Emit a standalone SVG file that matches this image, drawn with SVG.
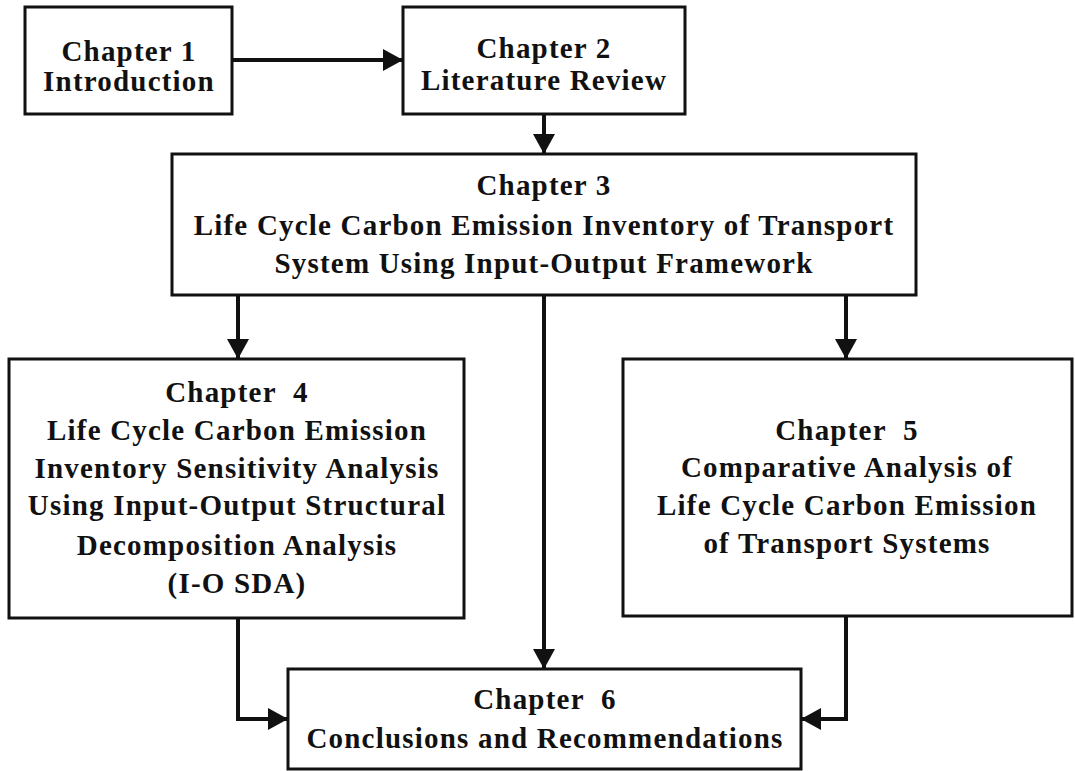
<svg xmlns="http://www.w3.org/2000/svg" width="1075" height="771" viewBox="0 0 1075 771">
<style>
.box{fill:#fff;stroke:#111;stroke-width:3}
.t{font-family:"Liberation Serif","Times New Roman",serif;font-weight:bold;font-size:29px;letter-spacing:1.2px;fill:#111;text-anchor:middle;white-space:pre}
.c{fill:none;stroke:#111;stroke-width:4;marker-end:url(#ah)}
</style>
<defs>
<marker id="ah" markerUnits="userSpaceOnUse" markerWidth="20" markerHeight="22" refX="19" refY="11" orient="auto">
<path d="M0,0 L20,11 L0,22 z" fill="#111"/>
</marker>
</defs>
<rect width="1075" height="771" fill="#fff"/>
<g id="connectors">
<line class="c" x1="232" y1="60" x2="402" y2="60"/>
<line class="c" x1="544" y1="114" x2="544" y2="153"/>
<line class="c" x1="238" y1="295" x2="238" y2="358"/>
<line class="c" x1="846" y1="295" x2="846" y2="358"/>
<line class="c" x1="544" y1="295" x2="544" y2="668"/>
<path class="c" d="M238,618 V719 H287"/>
<path class="c" d="M846,616 V719 H802"/>
</g>
<g id="ch1">
<rect class="box" x="25" y="7" width="207" height="107"/>
<text class="t" x="129" y="61">Chapter 1</text>
<text class="t" x="129" y="91">Introduction</text>
</g>
<g id="ch2">
<rect class="box" x="403" y="7" width="282" height="107"/>
<text class="t" x="544" y="58">Chapter 2</text>
<text class="t" x="544" y="90">Literature Review</text>
</g>
<g id="ch3">
<rect class="box" x="172" y="154" width="744" height="141"/>
<text class="t" x="544" y="195">Chapter 3</text>
<text class="t" x="544" y="235">Life Cycle Carbon Emission Inventory of Transport</text>
<text class="t" x="544" y="273">System Using Input-Output Framework</text>
</g>
<g id="ch4">
<rect class="box" x="9" y="359" width="455" height="259"/>
<text class="t" x="237" y="402">Chapter  4</text>
<text class="t" x="237" y="440">Life Cycle Carbon Emission</text>
<text class="t" x="237" y="478">Inventory Sensitivity Analysis</text>
<text class="t" x="237" y="515">Using Input-Output Structural</text>
<text class="t" x="237" y="555">Decomposition Analysis</text>
<text class="t" x="237" y="593">(I-O SDA)</text>
</g>
<g id="ch5">
<rect class="box" x="623" y="359" width="449" height="257"/>
<text class="t" x="847" y="440">Chapter  5</text>
<text class="t" x="847" y="477">Comparative Analysis of</text>
<text class="t" x="847" y="515">Life Cycle Carbon Emission</text>
<text class="t" x="847" y="553">of Transport Systems</text>
</g>
<g id="ch6">
<rect class="box" x="288" y="669" width="513" height="100"/>
<text class="t" x="545" y="709">Chapter  6</text>
<text class="t" x="545" y="748">Conclusions and Recommendations</text>
</g>
</svg>
